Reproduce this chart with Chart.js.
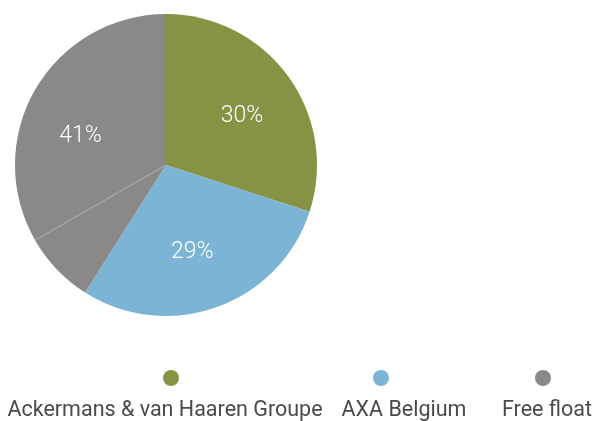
<!DOCTYPE html>
<html>
<head>
<meta charset="utf-8">
<script src="https://cdn.jsdelivr.net/npm/chart.js@4"></script>
<style>
  html, body { margin: 0; padding: 0; background: #fff; }
  #wrap { width: 595px; height: 421px; position: relative; }
</style>
</head>
<body>
<div id="wrap"><canvas id="pie"></canvas></div>
<script>
// shareholders (free float is drawn in two parts, labelled once)
const labels = ['Ackermans & van Haaren Groupe', 'AXA Belgium', 'Free float', 'Free float'];
const values = [30, 29, 7.7, 33.3];
const colors = ['#879244', '#7BB4D4', '#8B8987', '#8B8987'];
const legendNames = ['Ackermans & van Haaren Groupe', 'AXA Belgium', 'Free float'];

const FONT = 'Roboto, "DejaVu Sans", sans-serif';

// percent labels, one per legend group
const pctLabels = {
  id: 'pctLabels',
  afterDatasetsDraw(chart) {
    const ctx = chart.ctx;
    const arcs = chart.getDatasetMeta(0).data;
    const groups = [[0], [1], [2, 3]];
    ctx.save();
    ctx.fillStyle = '#fff';
    ctx.font = '300 23px ' + FONT;
    ctx.textAlign = 'center';
    ctx.textBaseline = 'middle';
    groups.forEach(g => {
      const first = arcs[g[0]], last = arcs[g[g.length - 1]];
      const mid = (first.startAngle + last.endAngle) / 2 + 3 * Math.PI / 180;
      const r = first.outerRadius * 0.6;
      const total = Math.round(g.reduce((s, i) => s + values[i], 0));
      ctx.fillText(total + '%', first.x + Math.cos(mid) * r, first.y + Math.sin(mid) * r + 1);
    });
    // thin divider inside the free float part
    const a = arcs[3];
    ctx.strokeStyle = '#b2b0ae';
    ctx.lineWidth = 0.8;
    ctx.beginPath();
    ctx.moveTo(a.x, a.y);
    ctx.lineTo(a.x + Math.cos(a.startAngle) * a.outerRadius, a.y + Math.sin(a.startAngle) * a.outerRadius);
    ctx.stroke();
    ctx.restore();
  }
};

// legend: dot above each name
const bottomLegend = {
  id: 'bottomLegend',
  afterDraw(chart) {
    const ctx = chart.ctx;
    const dotX = [171, 381, 543];
    const textX = [165, 404, 547];
    ctx.save();
    ctx.font = '21.5px ' + FONT;
    ctx.textAlign = 'center';
    ctx.textBaseline = 'middle';
    legendNames.forEach((name, i) => {
      ctx.fillStyle = colors[i];
      ctx.beginPath();
      ctx.arc(dotX[i], 378, 8, 0, Math.PI * 2);
      ctx.fill();
      ctx.fillStyle = '#4a4a4a';
      ctx.fillText(name, textX[i], 411);
    });
    ctx.restore();
  }
};

new Chart(document.getElementById('pie'), {
  type: 'pie',
  data: {
    labels: labels,
    datasets: [{
      data: values,
      backgroundColor: colors,
      borderWidth: 0
    }]
  },
  options: {
    responsive: true,
    maintainAspectRatio: false,
    animation: false,
    layout: { padding: { left: 15, top: 14, right: 278, bottom: 105 } },
    plugins: {
      legend: { display: false },
      tooltip: { enabled: false }
    }
  },
  plugins: [pctLabels, bottomLegend]
});
</script>
</body>
</html>
